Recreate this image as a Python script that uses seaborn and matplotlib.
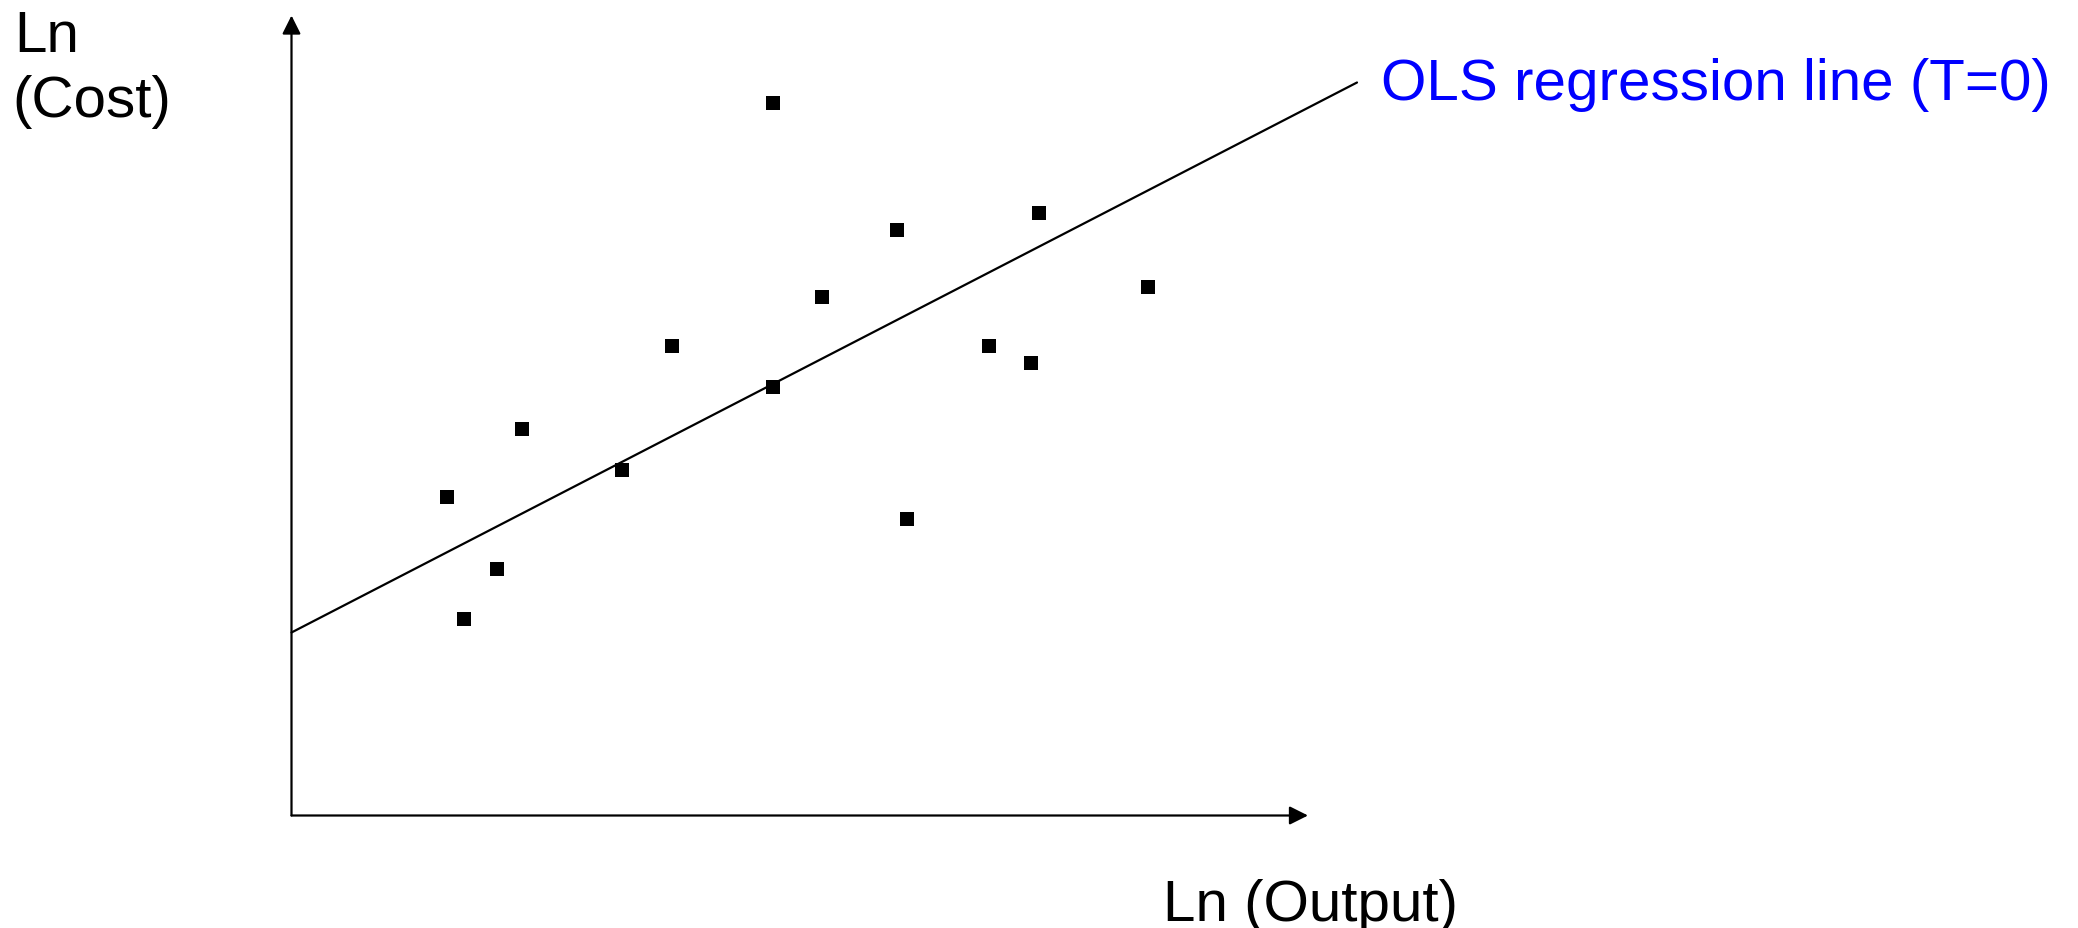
import numpy as np
import matplotlib.pyplot as plt
import pandas as pd
import seaborn as sns

# scatter points (arbitrary Ln units, origin at axis crossing)
ln_output = [4.81, 6.05, 7.47, 5.30, 8.56, 3.80, 6.97, 7.39, 4.81, 2.30, 3.30, 1.55, 6.15, 2.05, 1.72]
ln_cost = [7.13, 5.86, 6.03, 5.19, 5.29, 4.69, 4.69, 4.53, 4.29, 3.87, 3.46, 3.19, 2.97, 2.47, 1.97]

# regression line end points
line_x = [0.0, 10.655]
line_y = [1.83, 7.33]

label_line = "OLS regression line (T=0)"
label_x = "Ln (Output)"
label_y = ["Ln", "(Cost)"]

df = pd.DataFrame({"ln_output": ln_output, "ln_cost": ln_cost})

sns.set_style("white")
plt.rcParams['font.family'] = ['Liberation Sans', 'DejaVu Sans']

fig = plt.figure(figsize=(20.78, 9.29), dpi=100)
ax = fig.add_axes([0, 0, 1, 1])
ax.set_xlim(-2.915, 17.865)
ax.set_ylim(-1.125, 8.165)
ax.axis('off')

# axes with arrow heads
arrow = dict(arrowstyle='-|>', color='black', lw=1.6, mutation_scale=28, shrinkA=0, shrinkB=0)
ax.annotate('', xy=(0, 8.0), xytext=(0, 0), arrowprops=arrow)
ax.annotate('', xy=(10.165, 0), xytext=(0, 0), arrowprops=arrow)

sns.lineplot(x=line_x, y=line_y, ax=ax, color='black', linewidth=1.6)
sns.scatterplot(data=df, x="ln_output", y="ln_cost", ax=ax, marker='s', s=90,
                color='black', linewidth=0)

ax.text(10.895, 7.16, label_line, color='#0000ff', fontsize=42, va='baseline', ha='left')
fig.text(1163 / 2078, 1 - 921 / 929, label_x, color='black', fontsize=42, va='baseline', ha='left')
fig.text(14 / 2078, 1 - 52 / 929, label_y[0], color='black', fontsize=42, va='baseline', ha='left')
fig.text(12 / 2078, 1 - 117 / 929, label_y[1], color='black', fontsize=42, va='baseline', ha='left')

fig.savefig("out.png", dpi=100)
